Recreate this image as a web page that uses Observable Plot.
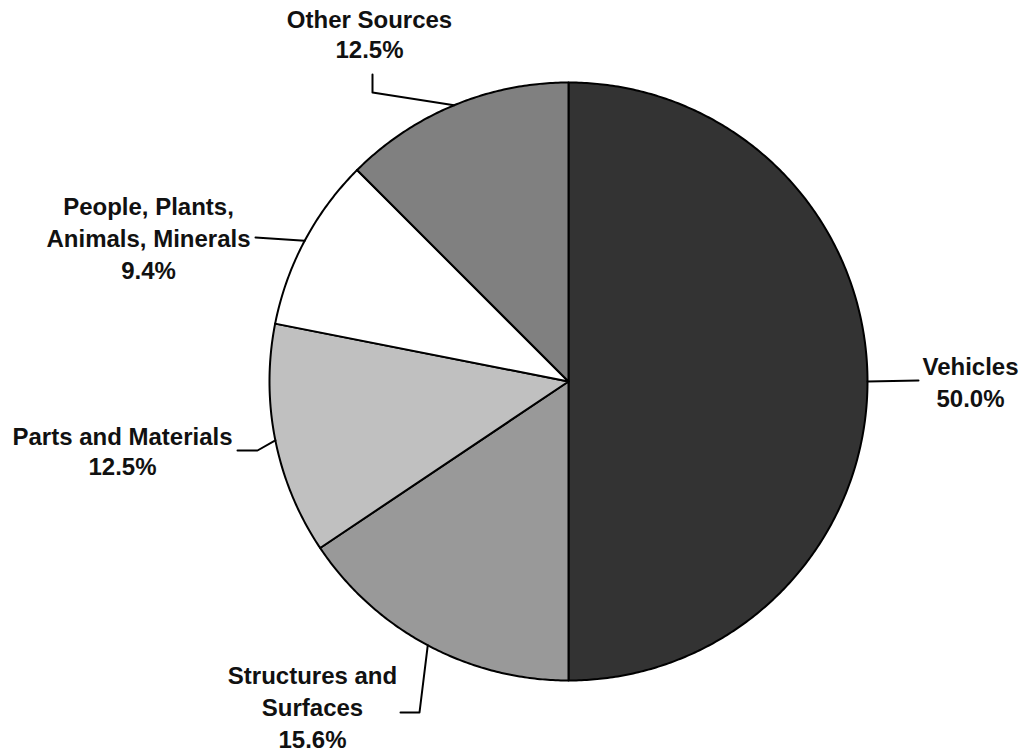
<!DOCTYPE html>
<html>
<head>
<meta charset="utf-8">
<script src="https://cdn.jsdelivr.net/npm/d3@7"></script>
<script src="https://cdn.jsdelivr.net/npm/@observablehq/plot@0.6"></script>
<style>
  html, body { margin: 0; padding: 0; background: #fff; }
  #chart svg { display: block; }
</style>
</head>
<body>
<div id="chart"></div>
<script>
// ---- Data ----
const categories = ["Vehicles", "Structures and Surfaces", "Parts and Materials", "People, Plants, Animals, Minerals", "Other Sources"];
const shares = [50.0, 15.6, 12.5, 9.4, 12.5];
const labelLines = [
  ["Vehicles"],
  ["Structures and", "Surfaces"],
  ["Parts and Materials"],
  ["People, Plants,", "Animals, Minerals"],
  ["Other Sources"]
];

// ---- Styles / layout ----
const colors = ["#333333", "#999999", "#c0c0c0", "#ffffff", "#808080"];
const W = 1024, H = 754;
const CX = 568, CY = 381, R = 299;
const FS = 24;
// label block centre (px), line spacing (px), and leader elbow points (px)
const layout = [
  {tx: 970, ty: 380, ls: 32, elbow: [[918, 380]]},
  {tx: 312, ty: 705, ls: 32, elbow: [[419, 712], [400, 712]]},
  {tx: 122, ty: 450, ls: 30, elbow: [[257, 450], [237, 450]]},
  {tx: 148, ty: 236, ls: 32, elbow: [[255, 237]]},
  {tx: 369, ty: 33, ls: 30, elbow: [[372, 92], [372, 74]]}
];
const px = x => (x - CX) / R;
const py = y => (CY - y) / R;

// ---- Geometry from data ----
const total = d3.sum(shares);
let acc = 0;
const slices = shares.map((v, i) => {
  const a0 = acc / total * 2 * Math.PI;
  acc += v;
  const a1 = acc / total * 2 * Math.PI;
  return {i, a0, a1, mid: (a0 + a1) / 2};
});
const polar = a => [Math.sin(a), Math.cos(a)];

const sliceMarks = slices.map(s => {
  const pts = [[0, 0]];
  const n = Math.max(2, Math.ceil((s.a1 - s.a0) / (Math.PI / 360)));
  for (let k = 0; k <= n; k++) pts.push(polar(s.a0 + (s.a1 - s.a0) * k / n));
  pts.push([0, 0]);
  return Plot.line(pts, {x: d => d[0], y: d => d[1], fill: colors[s.i], stroke: "#000", strokeWidth: 2, strokeLinejoin: "round"});
});

const leaderMarks = slices.map(s => {
  const pts = [polar(s.mid), ...layout[s.i].elbow.map(([x, y]) => [px(x), py(y)])];
  return Plot.line(pts, {x: d => d[0], y: d => d[1], stroke: "#000", strokeWidth: 2});
});

const labelData = categories.map((c, i) => ({
  text: [...labelLines[i], shares[i].toFixed(1) + "%"].join("\n"),
  x: px(layout[i].tx), y: py(layout[i].ty), lh: layout[i].ls / FS
}));
const textMarks = labelData.map(d => Plot.text([d], {
  x: "x", y: "y", text: "text", lineHeight: d.lh, lineAnchor: "middle", textAnchor: "middle",
  fontSize: FS, fontWeight: "bold", fill: "#111"
}));

const chart = Plot.plot({
  width: W, height: H,
  marginTop: 0, marginRight: 0, marginBottom: 0, marginLeft: 0,
  style: {fontFamily: "'Liberation Sans', Arial, sans-serif", background: "#fff"},
  x: {domain: [px(0), px(W)], axis: null},
  y: {domain: [py(H), py(0)], axis: null},
  marks: [...sliceMarks, ...leaderMarks, ...textMarks]
});
document.getElementById("chart").append(chart);
</script>
</body>
</html>
